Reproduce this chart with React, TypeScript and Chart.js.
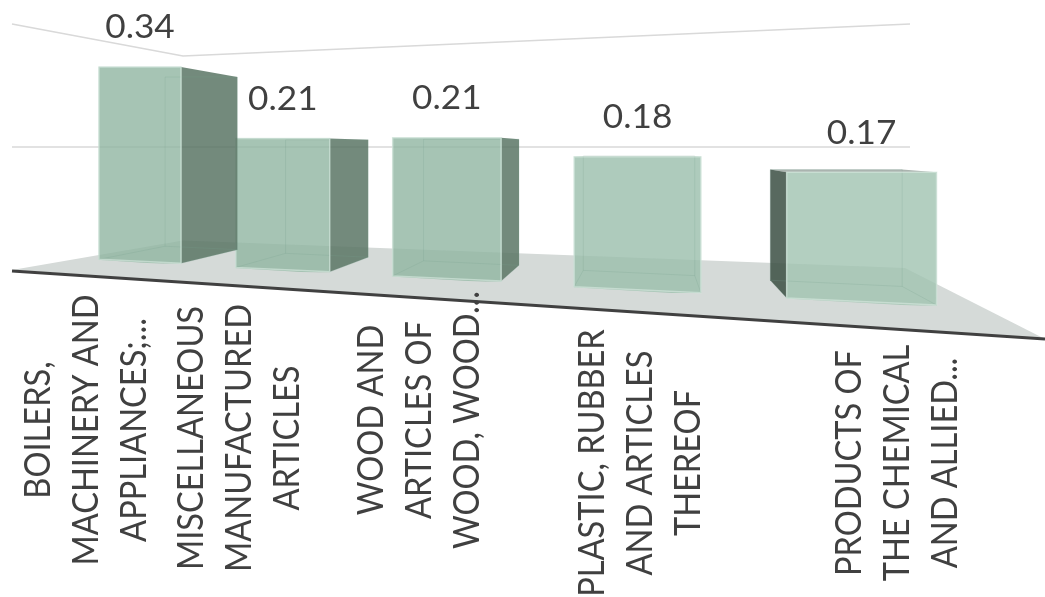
import React, { useEffect, useRef } from "react";
import { Chart, BarController, BarElement, CategoryScale, LinearScale } from "chart.js";

// ---- data ----
const categories = [
  ["BOILERS,", "MACHINERY AND", "APPLIANCES;..."],
  ["MISCELLANEOUS", "MANUFACTURED", "ARTICLES"],
  ["WOOD AND", "ARTICLES OF", "WOOD, WOOD..."],
  ["PLASTIC, RUBBER", "AND ARTICLES", "THEREOF"],
  ["PRODUCTS OF", "THE CHEMICAL", "AND ALLIED..."],
];
const values = [0.34, 0.21, 0.21, 0.18, 0.17];
// The 3D projection moves each box's top and foot away from its nominal value (axis units).
const topShift = [-0.01, 0.004, 0.005, 0.004, -0.011];
const footShift = [0.011, -0.003, -0.018, -0.037, -0.057];
const gridValues = [0.2, 0.4];

// ---- styling / layout ----
const frontColors = ["rgba(144,181,161,.8)", "rgba(144,181,161,.8)", "rgba(144,181,161,.8)", "rgba(154,190,171,.8)", "rgba(160,195,176,.8)"];
const sideColors = ["rgba(90,118,101,.85)", "rgba(90,118,101,.85)", "rgba(90,118,101,.85)", "rgba(90,118,101,.85)", "rgba(59,79,67,.85)"];
const labelCenterX = [86, 239, 419, 640, 897];
const labelCenterY = [430, 438, 420, 463, 463];
const labelLineGap = 48;
const vanishing = { x: 650, y: 150 };
const depth = 0.12;
const footSlope = 0.047;
const textColor = "#404040";

// Perspective projection of the category index on to pixels.
const PX = { a: 124.4, b: 140, c: -0.065 };
const projectX = (i: number) => (PX.a * i + PX.b) / (PX.c * i + 1);
const barWidth = (i: number) => (0.615 * (PX.a - PX.b * PX.c)) / Math.pow(1 + PX.c * i, 2);

class PerspectiveCategoryScale extends CategoryScale {
  static id = "perspectiveCategory";
  static defaults = CategoryScale.defaults;
  getPixelForValue(value: any) {
    const v = typeof value === "number" ? value : (this as any).parse(value);
    return projectX(v);
  }
}

const corners = (bar: any) => {
  const { x, y, base, width } = bar;
  return {
    lt: [x - width / 2, y],
    rt: [x + width / 2, y],
    rb: [x + width / 2, base],
    lb: [x - width / 2, base - footSlope * width],
  } as Record<string, number[]>;
};
const toBack = (p: number[]) => [p[0] + (vanishing.x - p[0]) * depth, p[1] + (vanishing.y - p[1]) * depth];
const poly = (ctx: CanvasRenderingContext2D, pts: number[][]) => {
  ctx.beginPath();
  pts.forEach((p, i) => (i ? ctx.lineTo(p[0], p[1]) : ctx.moveTo(p[0], p[1])));
  ctx.closePath();
};

const scenePlugin = {
  id: "scene3d",
  beforeDatasetsDraw(chart: any) {
    const { ctx, scales } = chart;
    const y = scales.y;
    const zero = y.getPixelForValue(0);
    const mid = y.getPixelForValue(gridValues[0]);
    // floor
    ctx.save();
    ctx.fillStyle = "#d5dad8";
    const bendFloor = mid + (zero - mid) * 0.76;
    poly(ctx, [[12, zero], [183, bendFloor], [905, zero - 2], [1045, 339]]);
    ctx.fill();
    // walls' gridlines
    ctx.strokeStyle = "#d9d9d9";
    ctx.lineWidth = 1.5;
    gridValues.forEach((v) => {
      const py = y.getPixelForValue(v);
      ctx.beginPath();
      ctx.moveTo(12, py);
      ctx.lineTo(183, mid + (py - mid) * 0.74);
      ctx.lineTo(910, py);
      ctx.stroke();
    });
    // front axis line
    ctx.strokeStyle = "#404040";
    ctx.lineWidth = 3;
    ctx.beginPath();
    ctx.moveTo(12, zero + 1);
    ctx.lineTo(1045, 339);
    ctx.stroke();
    ctx.restore();
  },
  beforeDatasetDraw(chart: any, args: any) {
    const i = args.index;
    const bar = chart.getDatasetMeta(i).data[i];
    const ctx = chart.ctx;
    const c = corners(bar);
    ctx.save();
    // top face, seen only when the box's top lies below the eye level
    if (c.lt[1] > vanishing.y) {
      ctx.fillStyle = sideColors[i];
      ctx.globalAlpha = 0.5;
      poly(ctx, [c.lt, c.rt, toBack(c.rt), toBack(c.lt)]);
      ctx.fill();
      ctx.globalAlpha = 1;
    }
    // side face that can be seen from the vanishing point
    const side = c.rt[0] < vanishing.x ? [c.rt, c.rb] : c.lt[0] > vanishing.x ? [c.lt, c.lb] : null;
    if (side) {
      ctx.fillStyle = sideColors[i];
      poly(ctx, [side[0], toBack(side[0]), toBack(side[1]), side[1]]);
      ctx.fill();
    }
    ctx.restore();
    ctx.save();
    // the library's rectangle is trimmed to the projected, sloping foot
    poly(ctx, [[c.lt[0] - 2, c.lt[1] - 2], [c.rt[0] + 2, c.rt[1] - 2], [c.rb[0] + 2, c.rb[1] + 2], [c.lb[0] - 2, c.lb[1] + 0.5]]);
    ctx.clip();
  },
  afterDatasetDraw(chart: any, args: any) {
    const i = args.index;
    const bar = chart.getDatasetMeta(i).data[i];
    const ctx = chart.ctx;
    ctx.restore();
    const c = corners(bar);
    ctx.save();
    // hidden edges seen through the glassy box
    ctx.strokeStyle = "rgba(120,160,140,.22)";
    ctx.lineWidth = 1;
    const back = [c.lt, c.rt, c.rb, c.lb].map(toBack);
    poly(ctx, back);
    ctx.stroke();
    [c.lb, c.rb].forEach((p) => {
      const b = toBack(p);
      ctx.beginPath();
      ctx.moveTo(p[0], p[1]);
      ctx.lineTo(b[0], b[1]);
      ctx.stroke();
    });
    // light front edges
    ctx.strokeStyle = "rgba(214,232,222,.65)";
    ctx.lineWidth = 1.5;
    poly(ctx, [c.lt, c.rt, c.rb, c.lb]);
    ctx.stroke();
    ctx.restore();
  },
  afterDatasetsDraw(chart: any) {
    const ctx = chart.ctx;
    ctx.save();
    ctx.fillStyle = textColor;
    ctx.textAlign = "center";
    ctx.textBaseline = "middle";
    // value labels above each box
    ctx.font = "32px Lato";
    values.forEach((v, i) => {
      const bar = chart.getDatasetMeta(i).data[i];
      ctx.save();
      ctx.translate(bar.x, bar.y - 39);
      ctx.scale(1.1, 1);
      ctx.fillText(v.toFixed(2), 0, 0);
      ctx.restore();
    });
    // rotated category labels
    ctx.font = "36px Lato";
    categories.forEach((lines, i) => {
      lines.forEach((line, k) => {
        ctx.save();
        ctx.translate(labelCenterX[i] + (k - 1) * labelLineGap, labelCenterY[i]);
        ctx.rotate(-Math.PI / 2);
        ctx.scale(0.905, 1);
        ctx.fillText(line, 0, 0);
        ctx.restore();
      });
    });
    ctx.restore();
  },
};

Chart.register(BarController, BarElement, CategoryScale, LinearScale, PerspectiveCategoryScale);

export default function App() {
  const ref = useRef<HTMLCanvasElement>(null);
  useEffect(() => {
    document.body.style.margin = "0";
    const labels = categories.map((c) => c.join(" "));
    const chart = new Chart(ref.current as HTMLCanvasElement, {
      type: "bar",
      data: {
        labels,
        datasets: values.map((v, i) => ({
          label: labels[i],
          data: values.map((_, j) => (j === i ? [footShift[i], v + topShift[i]] : null)),
          barThickness: barWidth(i),
          backgroundColor: frontColors[i],
          borderWidth: 0,
          grouped: false,
        })) as any,
      },
      options: {
        responsive: false,
        animation: false,
        layout: { padding: 0 },
        plugins: { legend: { display: false }, tooltip: { enabled: false } },
        scales: {
          x: { type: "perspectiveCategory" as any, display: false },
          y: { type: "linear", display: false, min: -0.5317, max: 0.439 },
        },
      },
      plugins: [scenePlugin],
    });
    return () => chart.destroy();
  }, []);
  return <canvas ref={ref} width={1045} height={597} style={{ display: "block", filter: "blur(0.7px)" }} />;
}
